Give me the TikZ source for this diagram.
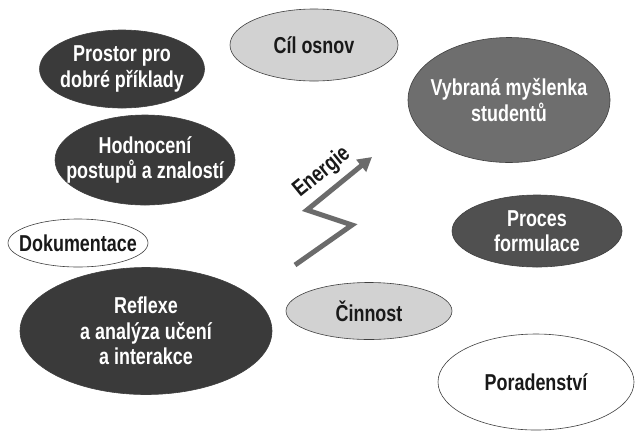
\documentclass[tikz,border=0pt]{standalone}
\usepackage{fontspec}
\setmainfont{Liberation Sans}[FakeStretch=0.78]
\usetikzlibrary{arrows.meta, shapes.geometric}

\definecolor{blobdark}{HTML}{3A3A3A}
\definecolor{blobmid}{HTML}{6E6E6E}
\definecolor{blobproc}{HTML}{505050}
\definecolor{bloblight}{HTML}{D2D2D2}
\definecolor{arrowgray}{HTML}{6B6B6B}

\begin{document}
\begin{tikzpicture}[
    x=1pt, y=-1pt,
    blob/.style={ellipse, draw=black!75, line width=0.6pt, inner sep=0pt},
    dark/.style={blob, fill=blobdark},
    light/.style={blob, fill=bloblight},
    plain/.style={blob, fill=white},
    txt/.style={align=center, font=\bfseries\fontsize{23}{25.5}\selectfont, text=black!90},
    wtxt/.style={txt, text=white},
    >=Stealth
]
\useasboundingbox (0,0) rectangle (636,432);

% tmave elipsy vlevo
\node[dark, minimum width=165pt, minimum height=78pt] (prostor) at (122,69) {};
\node[wtxt] at (prostor.center) {Prostor pro\\dobré příklady};
\node[dark, minimum width=180pt, minimum height=90pt] (hodnoceni) at (145,160) {};
\node[wtxt] at (hodnoceni.center) {Hodnocení\\postupů a znalostí};
\node[dark, minimum width=252pt, minimum height=127pt] (reflexe) at (146,331) {};
\node[wtxt] at (reflexe.center) {Reflexe\\a analýza učení\\a interakce};

% svetle a bile elipsy
\node[light, minimum width=168pt, minimum height=72pt] (cil) at (314,45) {};
\node[txt] at (cil.center) {Cíl osnov};
\node[light, minimum width=166pt, minimum height=57pt] (cinnost) at (369,311) {};
\node[txt] at (cinnost.center) {Činnost};
\node[plain, minimum width=140pt, minimum height=48pt] (dokumentace) at (78,243) {};
\node[txt] at (dokumentace.center) {Dokumentace};
\node[plain, minimum width=196pt, minimum height=96pt] (poradenstvi) at (536,382) {};
\node[txt] at (poradenstvi.center) {Poradenství};

% elipsy vpravo
\node[blob, fill=blobmid, minimum width=202pt, minimum height=125pt] (vybrana) at (509,100) {};
\node[wtxt] at (vybrana.center) {Vybraná myšlenka\\studentů};
\node[blob, fill=blobproc, minimum width=170pt, minimum height=72pt] (proces) at (537,231) {};
\node[wtxt] at (proces.center) {Proces\\formulace};

% sipka energie
\coordinate (e1) at (295,265);
\coordinate (e2) at (352,225);
\coordinate (e3) at (307,210);
\coordinate (e4) at (372,157);
\draw[arrowgray, line width=5pt, -{Triangle[length=14pt, width=15pt]}]
    (e1) -- (e2) -- (e3) -- node[pos=0.42, sloped, above=3pt, txt] {Energie} (e4);

\end{tikzpicture}
\end{document}
